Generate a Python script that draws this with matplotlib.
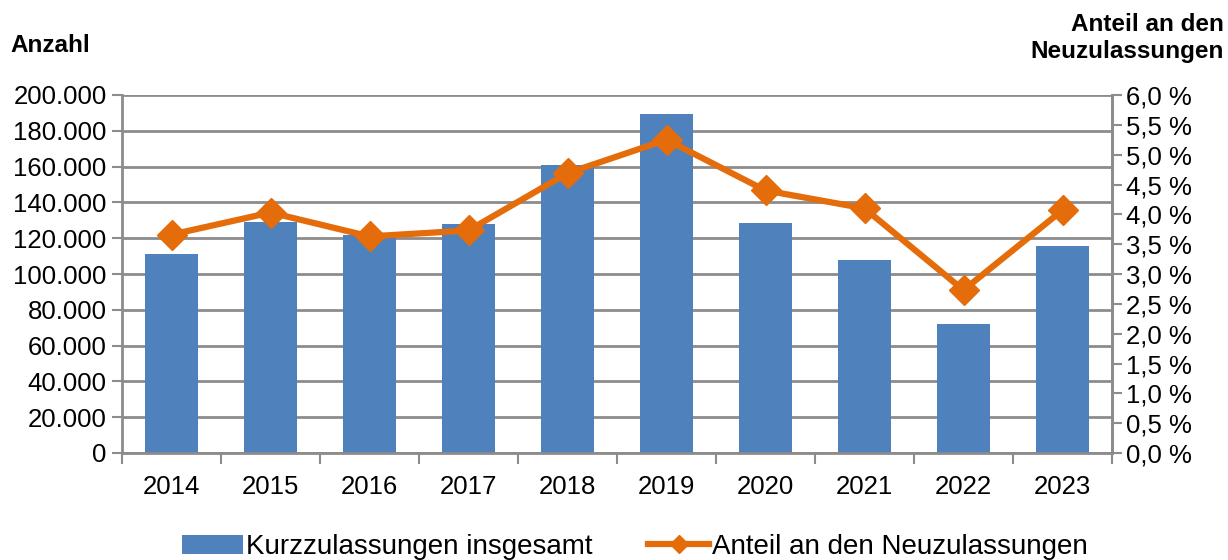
import numpy as np
import matplotlib.pyplot as plt
from matplotlib.ticker import FuncFormatter, FixedLocator

plt.rcParams['font.family'] = ['Liberation Sans', 'DejaVu Sans']

jahre = ['2014', '2015', '2016', '2017', '2018', '2019', '2020', '2021', '2022', '2023']
kurzzulassungen = [111200, 129200, 121600, 127900, 161000, 189400, 128700, 107600, 72200, 115800]
anteil = [3.66, 4.03, 3.63, 3.73, 4.69, 5.25, 4.40, 4.10, 2.73, 4.07]

blau = '#4F81BD'
orange = '#E46C0A'
grau = '#8C8C8C'

fig = plt.figure(figsize=(12.28, 5.6), dpi=100)
ax = fig.add_axes([122/1228, 1 - 453/560, (1112-122)/1228, (453-95)/560])
ax2 = ax.twinx()

x = np.arange(len(jahre))
ax.bar(x, kurzzulassungen, width=0.53, color=blau, zorder=2,
       label='Kurzzulassungen insgesamt')
ax2.plot(x, anteil, color=orange, lw=4.5, marker='D', markersize=15,
         zorder=3, label='Anteil an den Neuzulassungen')

ax.set_xlim(-0.5, len(jahre) - 0.5)
ax.set_ylim(0, 200000)
ax.set_yticks(np.arange(0, 200001, 20000))
ax.yaxis.set_major_formatter(FuncFormatter(
    lambda v, p: '0' if v == 0 else f'{int(v):,}'.replace(',', '.')))
ax2.set_ylim(0, 6)
ax2.set_yticks(np.arange(0, 6.01, 0.5))
ax2.yaxis.set_major_formatter(FuncFormatter(
    lambda v, p: f'{v:.1f} %'.replace('.', ',')))

ax.set_xticks(x)
ax.set_xticklabels(jahre)
ax.xaxis.set_minor_locator(FixedLocator(np.arange(-0.5, len(jahre), 1)))
ax.tick_params(axis='x', which='major', length=0, labelsize=18.5, pad=16)
ax.tick_params(axis='x', which='minor', length=8, width=1.5, color=grau)
ax.tick_params(axis='y', length=7, width=1.5, color=grau, labelsize=18.5, pad=4)
ax2.tick_params(axis='y', length=7, width=1.5, color=grau, labelsize=18.5, pad=3)

ax.grid(axis='y', color=grau, lw=2, zorder=0)
ax.set_axisbelow(True)
for a in (ax, ax2):
    a.spines['top'].set_visible(False)
    for s in ('left', 'right', 'bottom'):
        a.spines[s].set_color(grau)
        a.spines[s].set_linewidth(2)
ax2.spines['left'].set_visible(False)
ax2.spines['bottom'].set_visible(False)

fig.text(10/1228, 1 - 46/560, 'Anzahl', fontsize=17.5, fontweight='bold',
         ha='left', va='center')
fig.text(1224/1228, 1 - 38/560, 'Anteil an den\nNeuzulassungen', fontsize=17.5,
         fontweight='bold', ha='right', va='center', linespacing=1.2)

h1, l1 = ax.get_legend_handles_labels()
h2, l2 = ax2.get_legend_handles_labels()
fig.legend(h1 + h2, l1 + l2, loc='center', bbox_to_anchor=(0.517, 1 - 547/560),
           ncol=2, frameon=False, fontsize=20, handlelength=2.2,
           handletextpad=0.1, columnspacing=2.0, markerscale=0.6)

fig.savefig('out.png', dpi=100)
